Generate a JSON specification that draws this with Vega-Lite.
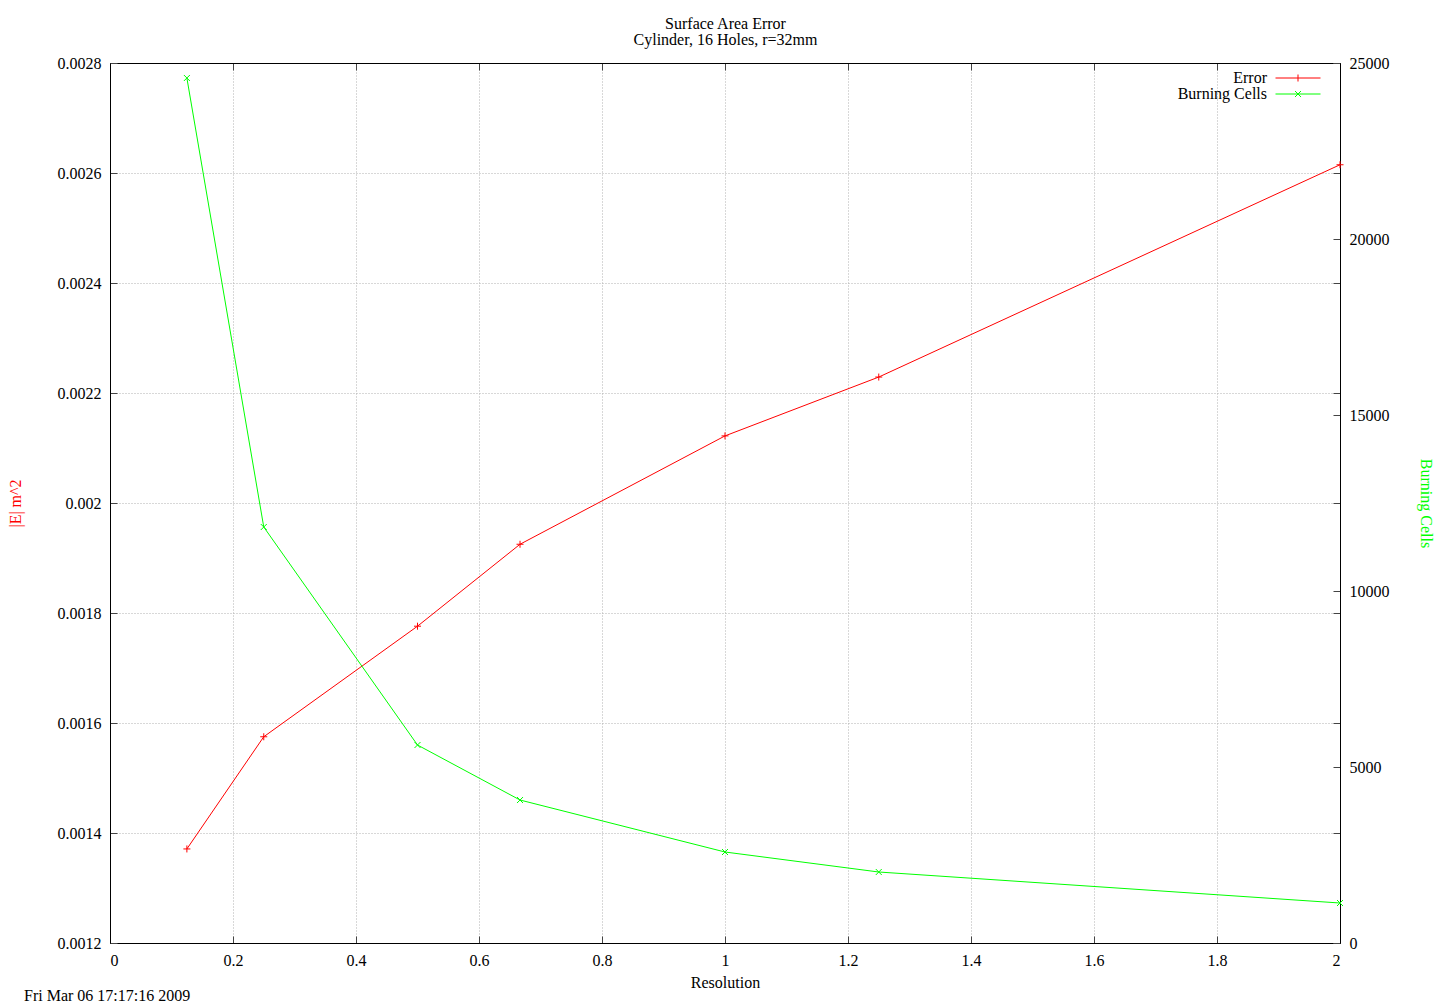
{
  "$schema": "https://vega.github.io/schema/vega-lite/v6.json",
  "autosize": "none",
  "width": 1230,
  "height": 880,
  "padding": {"left": 110, "top": 63, "right": 100, "bottom": 65},
  "background": "white",
  "title": {
    "text": "Fri Mar 06 17:17:16 2009",
    "orient": "bottom",
    "anchor": "start",
    "frame": "group",
    "dx": -86,
    "dy": -20,
    "offset": 18,
    "font": "Liberation Serif",
    "fontSize": 16,
    "fontWeight": "normal",
    "color": "black"
  },
  "data": {
    "values": [
      {"res": 0.125, "series": "Error", "value": 0.001371},
      {"res": 0.25, "series": "Error", "value": 0.001575},
      {"res": 0.5, "series": "Error", "value": 0.001776},
      {"res": 0.6667, "series": "Error", "value": 0.001925},
      {"res": 1, "series": "Error", "value": 0.002122},
      {"res": 1.25, "series": "Error", "value": 0.002229},
      {"res": 2, "series": "Error", "value": 0.002615},
      {"res": 0.125, "series": "Burning Cells", "value": 24574},
      {"res": 0.25, "series": "Burning Cells", "value": 11818},
      {"res": 0.5, "series": "Burning Cells", "value": 5625},
      {"res": 0.6667, "series": "Burning Cells", "value": 4062},
      {"res": 1, "series": "Burning Cells", "value": 2585},
      {"res": 1.25, "series": "Burning Cells", "value": 2017},
      {"res": 2, "series": "Burning Cells", "value": 1136}
    ]
  },
  "layer": [
    {
      "transform": [{"filter": "datum.series == 'Error'"}],
      "mark": {"type": "line", "color": "#ff0000", "strokeWidth": 1},
      "encoding": {
        "x": {
          "field": "res", "type": "quantitative",
          "scale": {"domain": [0, 2], "nice": false, "zero": false},
          "axis": {"orient": "bottom", "values": [0, 0.2, 0.4, 0.6, 0.8, 1, 1.2, 1.4, 1.6, 1.8, 2], "format": "~g", "grid": true, "title": "Resolution", "titlePadding": 6}
        },
        "y": {
          "field": "value", "type": "quantitative",
          "scale": {"domain": [0.0012, 0.0028], "nice": false, "zero": false},
          "axis": {"orient": "left", "values": [0.0012, 0.0014, 0.0016, 0.0018, 0.002, 0.0022, 0.0024, 0.0026, 0.0028], "format": "~g", "grid": true, "title": "|E| m^2", "titleColor": "#ff0000", "titlePadding": 34}
        }
      }
    },
    {
      "transform": [{"filter": "datum.series == 'Error'"}],
      "mark": {"type": "point", "filled": false, "color": "#ff0000", "strokeWidth": 1, "size": 49, "shape": "M-1,0H1M0,-1V1", "opacity": 1},
      "encoding": {
        "x": {
          "field": "res", "type": "quantitative",
          "scale": {"domain": [0, 2], "nice": false, "zero": false},
          "axis": {"orient": "top", "values": [0, 0.2, 0.4, 0.6, 0.8, 1, 1.2, 1.4, 1.6, 1.8, 2], "labels": false, "grid": false, "title": ["Surface Area Error", "Cylinder, 16 Holes, r=32mm"], "titlePadding": 15, "titleLineHeight": 16}
        },
        "y": {
          "field": "value", "type": "quantitative",
          "scale": {"domain": [0.0012, 0.0028], "nice": false, "zero": false},
          "axis": {"orient": "right", "values": [0.0012, 0.0014, 0.0016, 0.0018, 0.002, 0.0022, 0.0024, 0.0026, 0.0028], "labels": false, "grid": false, "title": null}
        }
      }
    },
    {
      "transform": [{"filter": "datum.series == 'Burning Cells'"}],
      "mark": {"type": "line", "color": "#00ff00", "strokeWidth": 1},
      "encoding": {
        "x": {"field": "res", "type": "quantitative", "scale": {"domain": [0, 2], "nice": false, "zero": false}, "axis": null},
        "y": {
          "field": "value", "type": "quantitative",
          "scale": {"domain": [0, 25000], "nice": false, "zero": false},
          "axis": {"orient": "right", "values": [0, 5000, 10000, 15000, 20000, 25000], "format": "d", "grid": false, "title": "Burning Cells", "titleColor": "#00ff00", "titlePadding": 28}
        }
      }
    },
    {
      "transform": [{"filter": "datum.series == 'Burning Cells'"}],
      "mark": {"type": "point", "filled": false, "color": "#00ff00", "strokeWidth": 1, "size": 36, "shape": "M-1,-1L1,1M-1,1L1,-1", "opacity": 1},
      "encoding": {
        "x": {"field": "res", "type": "quantitative", "scale": {"domain": [0, 2], "nice": false, "zero": false}, "axis": null},
        "y": {"field": "value", "type": "quantitative", "scale": {"domain": [0, 25000], "nice": false, "zero": false}, "axis": null}
      }
    },
    {
      "mark": {"type": "point", "filled": false, "strokeWidth": 1, "opacity": 0},
      "encoding": {
        "x": {"field": "res", "type": "quantitative", "scale": {"domain": [0, 2], "nice": false, "zero": false}, "axis": null},
        "y": {"field": "value", "type": "quantitative", "axis": null},
        "color": {
          "field": "series", "type": "nominal",
          "scale": {"domain": ["Error", "Burning Cells"], "range": ["#ff0000", "#00ff00"]},
          "legend": {
            "title": null, "orient": "none", "legendX": 1180, "legendY": 7,
            "symbolSize": 100, "symbolStrokeWidth": 1, "symbolOpacity": 1,
            "labelAlign": "right", "labelOffset": -39, "labelFont": "Liberation Serif", "labelFontSize": 16,
            "labelColor": "black", "rowPadding": 0, "padding": 0
          }
        },
        "shape": {
          "field": "series", "type": "nominal",
          "scale": {"domain": ["Error", "Burning Cells"], "range": ["M-4.5,0H4.5M0,-0.7V0.7", "M-4.5,0H4.5M-0.6,-0.6L0.6,0.6M-0.6,0.6L0.6,-0.6"]}
        }
      }
    }
  ],
  "resolve": {
    "scale": {"y": "independent", "color": "independent", "shape": "independent"},
    "axis": {"x": "independent", "y": "independent"}
  },
  "config": {
    "view": {"stroke": "black", "strokeWidth": 1},
    "font": "Liberation Serif",
    "axis": {
      "labelFont": "Liberation Serif",
      "labelFontSize": 16,
      "labelColor": "black",
      "titleFont": "Liberation Serif",
      "titleFontSize": 16,
      "titleFontWeight": "normal",
      "titleColor": "black",
      "domainColor": "black",
      "domainWidth": 1,
      "tickColor": "#444444",
      "tickSize": -7,
      "tickWidth": 1,
      "labelPadding": 16,
      "gridColor": "#b0b0b0",
      "gridDash": [1, 2],
      "gridWidth": 1
    }
  }
}
